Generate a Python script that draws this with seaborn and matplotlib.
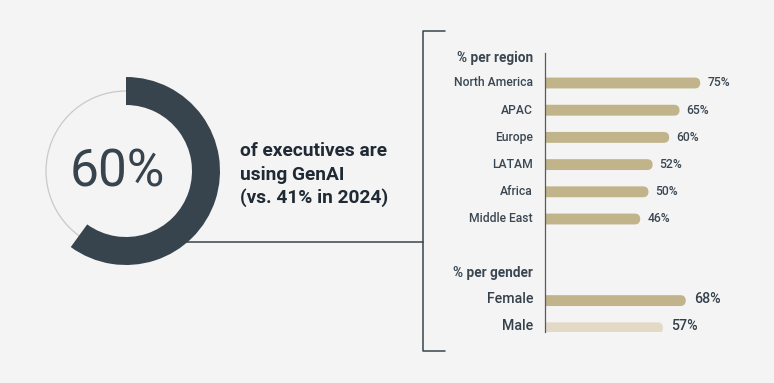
import pandas as pd
import seaborn as sns
import matplotlib.pyplot as plt
from matplotlib.patches import FancyBboxPatch, Circle
from matplotlib.lines import Line2D

# Data
regions = ['North America', 'APAC', 'Europe', 'LATAM', 'Africa', 'Middle East']
region_pct = [75, 65, 60, 52, 50, 46]
genders = ['Female', 'Male']
gender_pct = [68, 57]
headline_pct = 60
headline_lines = ['of executives are', 'using GenAI', '(vs. 41% in 2024)']

BG = '#F4F4F4'
DARK = '#37444D'
TAN = '#C2B48A'
LIGHT_TAN = '#E2DAC6'
TXT = '#3A4753'

sns.set_theme(style="white")
plt.rcParams['font.family'] = ['Roboto', 'DejaVu Sans']

W, H = 774, 383
fig = plt.figure(figsize=(W / 100, H / 100), dpi=100, facecolor=BG)


def fx(px):
    return px / W


def fy(py):
    return 1 - py / H


# ---- donut ----
cx, cy, r_out = 126, 171, 94
half = 100
dax = fig.add_axes([fx(cx - half), fy(cy + half), fx(2 * half), 2 * half / H])
dax.set_facecolor('none')
lim = half / r_out
dax.axis('off')
dax.add_patch(Circle((0, 0), 80 / r_out, fill=False, ec='#C9C9C9', lw=0.9, zorder=1))
dax.pie([headline_pct, 100 - headline_pct], startangle=90, counterclock=False,
        colors=[DARK, 'none'], radius=1,
        wedgeprops=dict(width=28 / r_out, edgecolor='none'))
for w in dax.patches:
    w.set_zorder(3)
dax.set_aspect('equal')
dax.set_xlim(-lim, lim)
dax.set_ylim(-lim, lim)
dax.text(-8.5 / r_out, -0.02, f'{headline_pct}%', ha='center', va='center',
         fontsize=37, color=DARK, zorder=4)

# connector line and bracket
fig.add_artist(Line2D([fx(180), fx(423)], [fy(242), fy(242)], color=DARK, lw=1.1, zorder=0))
fig.add_artist(Line2D([fx(445), fx(423), fx(423), fx(445)],
                      [fy(31), fy(31), fy(351), fy(351)], color=DARK, lw=1.1))

# headline text
for line, base in zip(headline_lines, [156, 179.5, 203]):
    fig.text(fx(240), fy(base), line, ha='left', va='baseline',
             fontsize=13.8, fontweight='bold', color='#1F2A35')

# ---- bars ----
df = pd.DataFrame({
    'label': regions + genders,
    'pct': region_pct + gender_pct,
})
order = regions + [' ', '  '] + genders
palette = {lab: TAN for lab in regions}
palette['Female'] = TAN
palette['Male'] = LIGHT_TAN

row_h = 27.2
top_idx, bot_idx = -1.1, 9.15
ax_top = 83 + top_idx * row_h
ax_bot = 83 + bot_idx * row_h
ax = fig.add_axes([fx(545), fy(ax_bot), fx(207), (ax_bot - ax_top) / H])
ax.set_facecolor('none')

sns.barplot(data=df, x='pct', y='label', hue='label', order=order, hue_order=regions + genders,
            palette=palette, saturation=1, orient='h', width=0.4, errorbar=None,
            legend=False, ax=ax)
ax.set_xlim(0, 100)
ax.set_ylim(bot_idx, top_idx)

# round the right ends of bars
px_per_unit = 207 / 100
r = 5.5 / px_per_unit
aspect = (5.5 / row_h) / r
for p in list(ax.patches):
    x, y = p.get_x(), p.get_y()
    w, h = p.get_width(), p.get_height()
    if w == 0 or pd.isna(w):
        continue
    fc = p.get_facecolor()
    p.remove()
    ax.add_patch(FancyBboxPatch((x - r, y), w + r, h,
                                boxstyle=f"round,pad=0,rounding_size={r}",
                                mutation_aspect=aspect, fc=fc, ec='none'))

ax.set_yticks([])
ax.set_xticks([])
ax.set_xlabel('')
ax.set_ylabel('')
for s in ['top', 'right', 'bottom']:
    ax.spines[s].set_visible(False)
ax.spines['left'].set_color('#5A5A5A')
ax.spines['left'].set_linewidth(0.9)

lab_x = -12 / px_per_unit
for lab, v in zip(regions, region_pct):
    i = order.index(lab)
    ax.text(lab_x, i, lab, ha='right', va='center', fontsize=8.7, fontweight=500,
            color=TXT, clip_on=False)
    ax.text(v + 7 / px_per_unit, i, f'{v}%', ha='left', va='center', fontsize=8.7,
            fontweight=500, color=TXT)
for lab, v in zip(genders, gender_pct):
    i = order.index(lab) - 0.05
    ax.text(lab_x, i, lab, ha='right', va='center', fontsize=10.2, fontweight=500,
            color='#34404B', clip_on=False)
    ax.text(v + 8 / px_per_unit, i, f'{v}%', ha='left', va='center', fontsize=10.2,
            fontweight=500, color='#34404B')

ax.text(lab_x, -0.92, '% per region', ha='right', va='center', fontsize=9.8,
        fontweight='bold', color=TXT, clip_on=False)
ax.text(lab_x, 7.0, '% per gender', ha='right', va='center', fontsize=9.8,
        fontweight='bold', color=TXT, clip_on=False)

fig.savefig('out.png', dpi=100, facecolor=BG)
